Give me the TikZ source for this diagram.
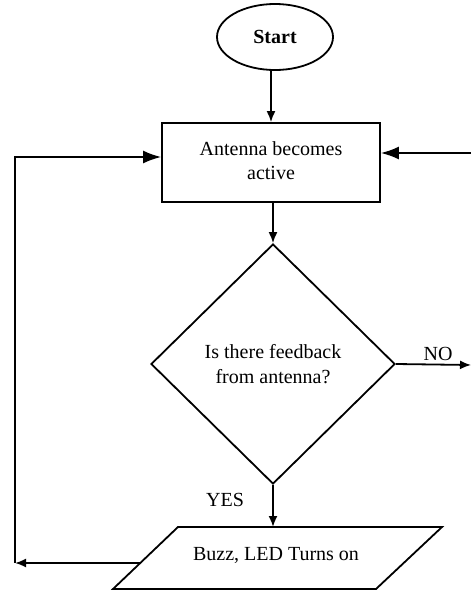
\documentclass[tikz,border=0pt]{standalone}
\usepackage{fontspec}
\setmainfont{Liberation Serif}
\usetikzlibrary{shapes.geometric,arrows.meta}
\tikzset{
  txt/.style={font=\fontsize{20}{25}\selectfont, align=center},
  boxshape/.style={draw, line width=1.8pt, txt},
  arr/.style={line width=1.8pt, -{Latex[length=11pt,width=9pt]}},
  bigarr/.style={line width=1.8pt, -{Latex[length=18pt,width=13pt]}},
}
\begin{document}
\begin{tikzpicture}[x=1pt,y=-1pt]
\useasboundingbox (0,0) rectangle (471,592);
\node[boxshape, ellipse, minimum width=116pt, minimum height=66pt, inner sep=0pt, font=\bfseries\fontsize{20}{24}\selectfont] (start) at (275,37) {Start};
\node[boxshape, rectangle, minimum width=218pt, minimum height=79pt, inner sep=0pt] (ant) at (271,162.5) {\raisebox{4pt}{\begin{tabular}{@{}c@{}}Antenna becomes\\[-1pt]active\end{tabular}}};
\node[boxshape, diamond, aspect=1, minimum width=244pt, minimum height=240pt, inner sep=0pt] (dec) at (273,364) {Is there feedback\\from antenna?};
\draw[line width=1.8pt, line join=miter] (178,527) -- (442,527) -- (376,589) -- (113,589) -- cycle;
\node[txt] (buzz) at (276,555) {Buzz, LED Turns on};
\coordinate (buzztop) at (273,527);
\coordinate (buzzleft) at (140,563);
\coordinate (lc) at (15,563);
\coordinate (lt) at (15,157);
\coordinate (rightin) at (471,153);
\coordinate (noout) at (471,365);
\node[txt] (no) at (438,354) {NO};
\node[txt] (yes) at (225,500) {YES};
\draw[arr] (start.south -| ant.north) -- (ant.north);
\draw[arr] (ant.south -| dec.north) -- (dec.north);
\draw[arr] (dec.south) -- (buzztop);
\draw[bigarr] (rightin) -- (rightin -| ant.east);
\draw[arr] (dec.east) -- (noout);
\draw[arr] (buzzleft) -- (lc);
\draw[bigarr] (lc) -- (lt) -- (lt -| ant.west);
\end{tikzpicture}
\end{document}
